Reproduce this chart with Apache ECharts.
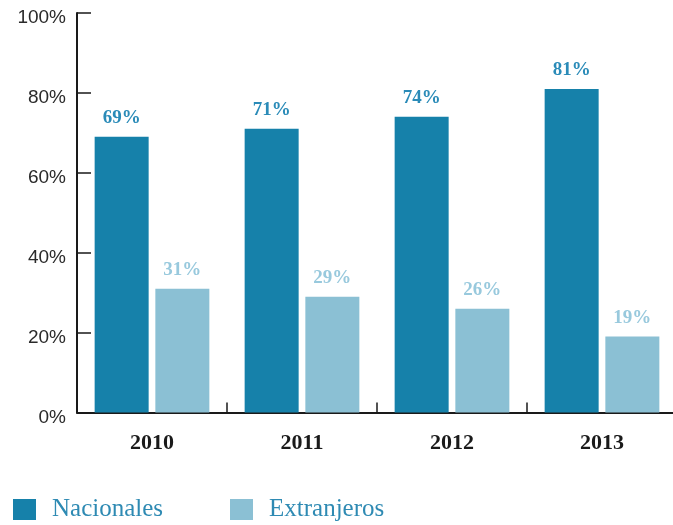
<!DOCTYPE html>
<html>
<head>
<meta charset="utf-8">
<script src="https://cdn.jsdelivr.net/npm/echarts@6/dist/echarts.min.js"></script>
<style>
  html, body { margin: 0; padding: 0; background: #fff; }
  #chart { width: 673px; height: 525px; }
</style>
</head>
<body>
<div id="chart"></div>
<script>
// Share of visitors by origin, per year
const years = ['2010', '2011', '2012', '2013'];
const nacionales = [69, 71, 74, 81];
const extranjeros = [31, 29, 26, 19];
const seriesNames = ['Nacionales', 'Extranjeros'];

const darkBlue = '#1681AA';
const lightBlue = '#8BC0D4';
const serif = '"Liberation Serif", "Times New Roman", serif';
const sans = '"Liberation Sans", Arial, sans-serif';

const chart = echarts.init(document.getElementById('chart'));

const labelFor = (color) => ({
  show: true,
  position: 'top',
  distance: 9,
  formatter: '{c}%',
  color: color,
  fontFamily: serif,
  fontWeight: 'bold',
  fontSize: 19
});

const legendFor = (name, left) => ({
  data: [name], left: left, top: 497, padding: 0,
  itemWidth: 23, itemHeight: 21, icon: 'rect',
  textStyle: { fontFamily: serif, fontSize: 25, color: '#2E8AB3', padding: [0, 0, 0, 11] }
});

chart.setOption({
  animation: false,
  backgroundColor: '#ffffff',
  // plot area runs a few pixels past the right edge so the last category is clipped
  grid: {
    left: 77, width: 600, top: 13, height: 399.5,
    containLabel: false, outerBoundsMode: 'none'
  },
  legend: [legendFor(seriesNames[0], 13), legendFor(seriesNames[1], 230)],
  xAxis: {
    type: 'category',
    data: years,
    axisLine: { show: true, lineStyle: { color: '#1a1a1a', width: 2 } },
    axisTick: { show: true, inside: true, length: 10, lineStyle: { color: '#1a1a1a', width: 1.5 } },
    axisLabel: {
      margin: 20,
      fontFamily: serif,
      fontWeight: 'bold',
      fontSize: 22,
      color: '#1a1a1a'
    },
    splitLine: { show: false }
  },
  yAxis: {
    type: 'value',
    min: 0,
    max: 100,
    interval: 20,
    axisLine: { show: true, lineStyle: { color: '#1a1a1a', width: 2 } },
    axisTick: { show: true, inside: true, length: 14, lineStyle: { color: '#1a1a1a', width: 1.5 } },
    axisLabel: {
      formatter: '{t|{value}%}',
      margin: 11,
      rich: {
        t: {
          fontFamily: sans,
          fontSize: 19,
          color: '#2a2a2a',
          padding: [10, 0, 0, 0]
        }
      }
    },
    splitLine: { show: false }
  },
  series: [
    {
      name: seriesNames[0],
      type: 'bar',
      data: nacionales,
      barWidth: 54,
      barGap: '12.4%',
      itemStyle: { color: darkBlue },
      label: labelFor('#2A8BB8')
    },
    {
      name: seriesNames[1],
      type: 'bar',
      data: extranjeros,
      barWidth: 54,
      itemStyle: { color: lightBlue },
      label: labelFor('#98C9DD')
    }
  ]
});
</script>
</body>
</html>
